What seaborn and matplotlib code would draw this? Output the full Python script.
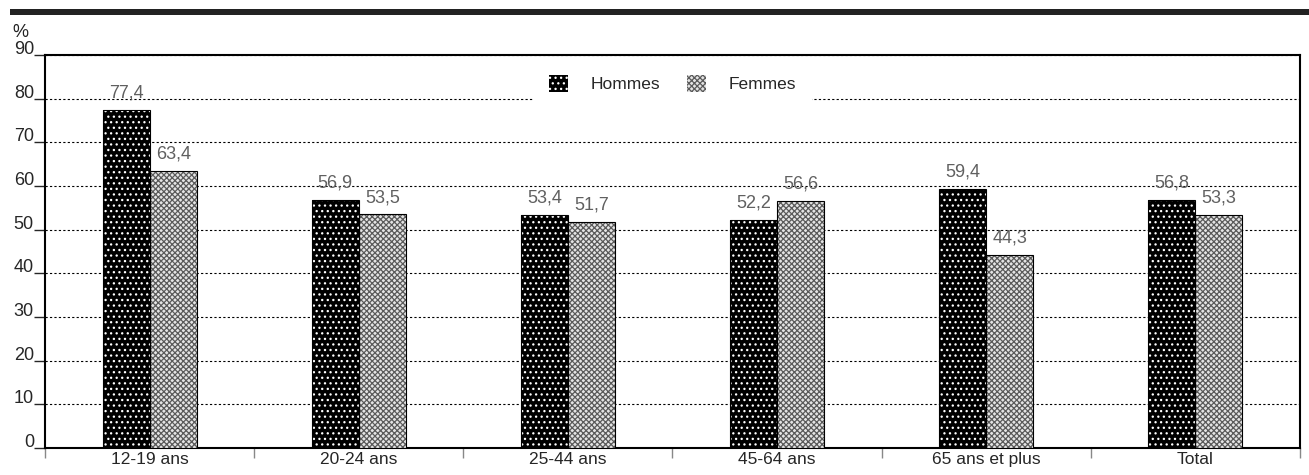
import matplotlib
matplotlib.use("Agg")
import matplotlib.pyplot as plt
import matplotlib.transforms as mtransforms
import seaborn as sns
import pandas as pd
from matplotlib.patches import Patch, Rectangle
from matplotlib.ticker import FixedLocator

categories = ["12-19 ans", "20-24 ans", "25-44 ans", "45-64 ans", "65 ans et plus", "Total"]
hommes = [77.4, 56.9, 53.4, 52.2, 59.4, 56.8]
femmes = [63.4, 53.5, 51.7, 56.6, 44.3, 53.3]
series = ["Hommes", "Femmes"]

df = pd.DataFrame({
    "cat": categories * 2,
    "val": hommes + femmes,
    "sexe": [series[0]] * len(categories) + [series[1]] * len(categories),
})

sns.set_theme(style="white")
plt.rcParams["font.family"] = ["Liberation Sans", "DejaVu Sans"]
plt.rcParams["hatch.linewidth"] = 0.9

fig = plt.figure(figsize=(13.09, 4.75), dpi=100)
ax = fig.add_axes([0.0344, 0.0568, 0.9587, 0.8274])

styles = {
    "Hommes": dict(face="black", edge="white", hatch="..."),
    "Femmes": dict(face="#e4e4e4", edge="#5a5a5a", hatch="xxxxxx"),
}

sns.barplot(data=df, x="cat", y="val", hue="sexe", order=categories,
            hue_order=series, width=0.45, gap=0, dodge=True,
            palette={"Hommes": "black", "Femmes": "#e4e4e4"},
            legend=False, ax=ax, zorder=3)

for cont, name in zip(ax.containers, series):
    st = styles[name]
    for bar in cont:
        bar.set_facecolor(st["face"])
        bar.set_edgecolor(st["edge"])
        bar.set_hatch(st["hatch"])
        bar.set_linewidth(0)
        # thin dark outline drawn on top
        ax.add_patch(Rectangle(bar.get_xy(), bar.get_width(), bar.get_height(),
                               facecolor="none", edgecolor="black", linewidth=0.8,
                               zorder=4))
    labels = [f"{v:.1f}".replace(".", ",") for v in cont.datavalues]
    ax.bar_label(cont, labels=labels, padding=6, fontsize=13, color="#606060")

ax.set_ylim(0, 90)
ax.set_xlim(-0.5, len(categories) - 0.5)
ax.set_yticks(range(0, 91, 10))
ax.yaxis.grid(True, linestyle=(0, (2, 2)), color="black", linewidth=0.8)
ax.set_axisbelow(True)
ax.tick_params(axis="y", length=8, width=1, direction="out", left=True, labelsize=13, pad=0)
ax.tick_params(axis="x", which="major", length=0, labelsize=12.5, pad=3)
ax.xaxis.set_minor_locator(FixedLocator([i - 0.5 for i in range(len(categories) + 1)]))
ax.tick_params(axis="x", which="minor", length=7, width=1, direction="out", bottom=True,
               color="#888888")
ax.set_xlabel("")
ax.set_ylabel("")
for side in ["left", "bottom", "top", "right"]:
    ax.spines[side].set_visible(True)
    ax.spines[side].set_color("black")
    ax.spines[side].set_linewidth(1.5)

# y labels sit on the tick, not centred on it
shift = mtransforms.ScaledTranslation(0, 1 / 100, fig.dpi_scale_trans)
for lab in ax.get_yticklabels():
    lab.set_verticalalignment("baseline")
    lab.set_transform(lab.get_transform() + shift)

ax.text(-0.02, 1.045, "%", transform=ax.transAxes, fontsize=13, ha="center",
        va="baseline", color="#222222")

handles = [Patch(facecolor=styles[n]["face"], edgecolor=styles[n]["edge"],
                 hatch=styles[n]["hatch"], linewidth=0, label=n) for n in series]
leg = ax.legend(handles=handles, loc="upper center", bbox_to_anchor=(0.5, 1.0),
                ncol=2, frameon=True, fontsize=12.5, handlelength=1.1, handleheight=1.1,
                columnspacing=1.5, handletextpad=1.3, borderpad=0.9,
                borderaxespad=0.25)
leg.get_frame().set_facecolor("white")
leg.get_frame().set_edgecolor("white")
leg.get_frame().set_alpha(1)
leg.set_zorder(5)

# heavy rule above the chart
fig.add_artist(Rectangle((10 / 1309, 1 - 15 / 475), 1 - 10 / 1309, 6 / 475,
                         transform=fig.transFigure, facecolor="#222222",
                         edgecolor="none"))

fig.savefig("out.png", dpi=100)
